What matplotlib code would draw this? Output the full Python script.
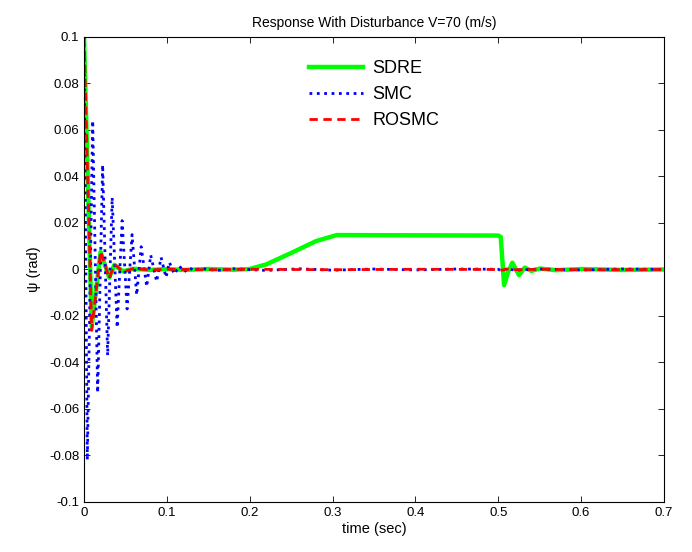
import matplotlib
matplotlib.use("Agg")
import matplotlib.pyplot as plt

plt.rcParams['font.family'] = ['Liberation Sans', 'DejaVu Sans']

# SDRE response (time, psi)
sdre_t = [0, 0.0093, 0.020, 0.0305, 0.0366, 0.047, 0.06, 0.08, 0.10, 0.12, 0.15, 0.18, 0.20,
          0.22, 0.25, 0.28, 0.305, 0.40, 0.50, 0.503, 0.507, 0.512, 0.517, 0.525, 0.532,
          0.54, 0.55, 0.57, 0.60, 0.65, 0.70]
sdre_v = [0.1, -0.0245, 0.0075, -0.0035, 0.002, -0.0008, 0.0003, -0.0002, 0.0002, -0.0002, 0.0002,
          -0.0001, 0.0002, 0.0022, 0.0071, 0.0122, 0.0148, 0.0147, 0.0146, 0.0140, -0.0067, -0.0010,
          0.0029, -0.0024, 0.0008, -0.0006, 0.0004, -0.0003, 0.0002, -0.0002, 0.0]

# SMC response
smc_t = [0, 0.004, 0.0105, 0.0165, 0.0225, 0.0285, 0.034, 0.040, 0.046, 0.052, 0.058, 0.0636,
         0.069, 0.0757, 0.0805, 0.0877, 0.093, 0.099, 0.103, 0.109, 0.115, 0.121, 0.127, 0.133,
         0.14, 0.16, 0.18, 0.22, 0.26, 0.30, 0.35, 0.40, 0.45, 0.50, 0.505, 0.51, 0.52, 0.55,
         0.60, 0.65, 0.70]
smc_v = [0.1, -0.082, 0.064, -0.053, 0.045, -0.037, 0.031, -0.025, 0.021, -0.017, 0.015, -0.011,
         0.0098, -0.0074, 0.0062, -0.0052, 0.0052, -0.0034, 0.0031, -0.002, 0.0015, -0.001, 0.0008,
         -0.0006, 0.0005, -0.0004, 0.0003, -0.0004, 0.0003, -0.0003, 0.0002, -0.0002, 0.0002,
         0.0001, -0.0008, 0.0004, -0.0003, 0.0002, -0.0002, 0.0002, 0.0]

# ROSMC response
rosmc_t = [0, 0.0093, 0.020, 0.0305, 0.0366, 0.047, 0.06, 0.08, 0.10, 0.15, 0.20, 0.30, 0.40,
           0.50, 0.505, 0.51, 0.52, 0.55, 0.60, 0.70]
rosmc_v = [0.1, -0.0262, 0.0078, -0.0038, 0.0022, -0.0009, 0.0004, -0.0002, 0.0001, -0.0001,
           0.0001, -0.0001, 0.0001, 0.0, -0.0003, 0.0002, -0.0001, 0.0001, -0.0001, 0.0]

xticks = [0, 0.1, 0.2, 0.3, 0.4, 0.5, 0.6, 0.7]
xlabels = ['0', '0.1', '0.2', '0.3', '0.4', '0.5', '0.6', '0.7']
yticks = [-0.1, -0.08, -0.06, -0.04, -0.02, 0, 0.02, 0.04, 0.06, 0.08, 0.1]
ylabels = ['-0.1', '-0.08', '-0.06', '-0.04', '-0.02', '0', '0.02', '0.04', '0.06', '0.08', '0.1']

fig = plt.figure(figsize=(6.92, 5.52), dpi=100)
ax = fig.add_axes([0.1214, 0.0906, 0.8381, 0.8424])

ax.plot(sdre_t, sdre_v, color='#00ff00', lw=3.2, label='SDRE')
ax.plot(smc_t, smc_v, color='#0000ff', lw=2, linestyle=':', label='SMC')
ax.plot(rosmc_t, rosmc_v, color='#ff0000', lw=2, linestyle='--', dashes=(3, 2), label='ROSMC')

ax.set_xlim(0, 0.7)
ax.set_ylim(-0.1, 0.1)
ax.set_xticks(xticks)
ax.set_xticklabels(xlabels)
ax.set_yticks(yticks)
ax.set_yticklabels(ylabels)
ax.tick_params(direction='in', top=True, right=True, labelsize=9.5, length=4, width=0.6)
for s in ax.spines.values():
    s.set_linewidth(0.8)

ax.set_title('Response With Disturbance V=70 (m/s)', fontsize=10, pad=7)
ax.set_xlabel('time (sec)', fontsize=10.5, labelpad=2)
ax.set_ylabel('\u03c8 (rad)', fontsize=10.5, labelpad=6)

ax.legend(loc='upper left', bbox_to_anchor=(0.36, 0.985), frameon=False, fontsize=13,
          handlelength=3.0, handletextpad=0.5, labelspacing=0.5)

fig.savefig('out.png', dpi=100)
